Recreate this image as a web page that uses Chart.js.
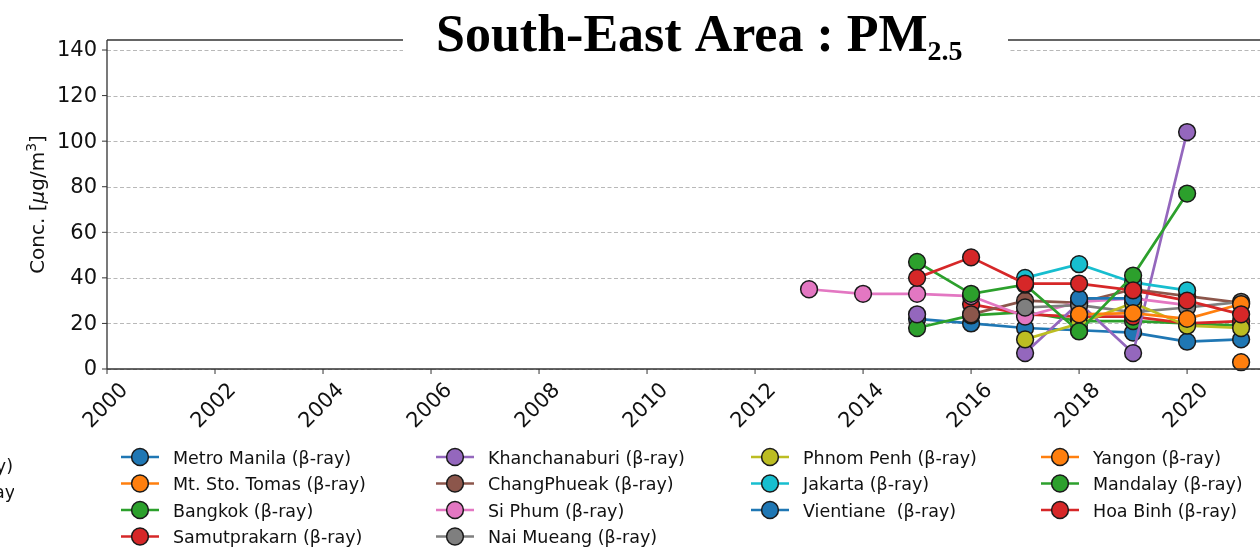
<!DOCTYPE html>
<html>
<head>
<meta charset="utf-8">
<script src="https://cdn.jsdelivr.net/npm/chart.js@4/dist/chart.umd.min.js"></script>
<style>
  html, body { margin: 0; padding: 0; background: #fff; overflow: hidden; }
  #wrap { position: relative; width: 1260px; height: 549px; }
</style>
</head>
<body>
<div id="wrap"><canvas id="chart" width="1260" height="549"></canvas></div>
<script>
// years on the x axis, one value per year (null = no measurement)
const years = [2013, 2014, 2015, 2016, 2017, 2018, 2019, 2020, 2021];

const metroManila   = [null, null, 22, 20, 18, 17, 16, 12, 13];
const mtStoTomas    = [null, null, null, null, null, null, null, null, 3];
const bangkok       = [null, null, 18, 23.5, 25, 21, 21, 20, 19];
const samutprakarn  = [null, null, null, 28.5, 24, 23, 23, 20, 21];
const khanchanaburi = [null, null, 24, null, 7, 29, 7, 104, null];
const changPhueak   = [null, null, null, 24, 30, 29, 35, 32, 29];
const siPhum        = [35, 33, 33, 32, 23, 29.5, 31, 28, null];
const naiMueang     = [null, null, null, null, 27, 28, 25, 27, 29.5];
const phnomPenh     = [null, null, null, null, 13, 20, 29, 19, 18];
const jakarta       = [null, null, null, null, 40, 46, 38, 34.5, null];
const vientiane     = [null, null, null, null, null, 31, 31, null, null];
const yangon        = [null, null, null, null, null, 24, 24.5, 22, 28.5];
const mandalay      = [null, null, 47, 33, 37, 16.5, 41, 77, null];
const hoaBinh       = [null, null, 40, 49, 37.5, 37.5, 34.5, 30, 24];

const stationNames = [
  'Metro Manila (β-ray)', 'Mt. Sto. Tomas (β-ray)', 'Bangkok (β-ray)', 'Samutprakarn (β-ray)',
  'Khanchanaburi (β-ray)', 'ChangPhueak (β-ray)', 'Si Phum (β-ray)', 'Nai Mueang (β-ray)',
  'Phnom Penh (β-ray)', 'Jakarta (β-ray)', 'Vientiane  (β-ray)', 'Yangon (β-ray)',
  'Mandalay (β-ray)', 'Hoa Binh (β-ray)'
];
const stationValues = [
  metroManila, mtStoTomas, bangkok, samutprakarn, khanchanaburi, changPhueak, siPhum,
  naiMueang, phnomPenh, jakarta, vientiane, yangon, mandalay, hoaBinh
];

const xTicks = [2000, 2002, 2004, 2006, 2008, 2010, 2012, 2014, 2016, 2018, 2020];
const yTicks = [0, 20, 40, 60, 80, 100, 120, 140];

const palette = ['#1f77b4', '#ff7f0e', '#2ca02c', '#d62728', '#9467bd',
                 '#8c564b', '#e377c2', '#7f7f7f', '#bcbd22', '#17becf'];

const FONT = '"DejaVu Sans", sans-serif';
const LINE_W = 2.7;

const datasets = stationNames.map((name, i) => {
  const c = palette[i % palette.length];
  return {
    label: name,
    data: years.map((yr, k) => ({ x: yr, y: stationValues[i][k] })),
    borderColor: c,
    backgroundColor: c,
    borderWidth: LINE_W,
    pointRadius: 8.4,
    pointBorderWidth: 1.5,
    pointBackgroundColor: c,
    pointBorderColor: '#1a1a1a',
    spanGaps: false,
    clip: false,
    order: stationNames.length - i   // later stations drawn on top
  };
});

const framePlugin = {
  id: 'frame',
  beforeDatasetsDraw(chart) {
    const { ctx, chartArea: a, scales: { y } } = chart;
    ctx.save();
    ctx.strokeStyle = '#b8b8b8';
    ctx.lineWidth = 1;
    ctx.setLineDash([4, 2.5]);
    yTicks.forEach(v => {
      const py = Math.round(y.getPixelForValue(v)) + 0.5;
      ctx.beginPath();
      ctx.moveTo(a.left, py);
      ctx.lineTo(a.right, py);
      ctx.stroke();
    });
    ctx.restore();
  },
  afterDatasetsDraw(chart) {
    const { ctx, chartArea: a, scales: { x, y } } = chart;
    ctx.save();

    // spines
    ctx.strokeStyle = '#333';
    ctx.lineWidth = 1.3;
    ctx.beginPath();
    ctx.moveTo(a.left, a.top); ctx.lineTo(a.right, a.top);
    ctx.moveTo(a.left, a.top); ctx.lineTo(a.left, a.bottom);
    ctx.moveTo(a.left, a.bottom); ctx.lineTo(a.right, a.bottom);
    ctx.stroke();

    // y ticks + labels
    ctx.lineWidth = 1;
    ctx.fillStyle = '#111';
    ctx.font = '21px ' + FONT;
    ctx.textAlign = 'right';
    ctx.textBaseline = 'middle';
    yTicks.forEach(v => {
      const py = y.getPixelForValue(v);
      ctx.beginPath();
      ctx.moveTo(a.left - 5, py); ctx.lineTo(a.left, py);
      ctx.stroke();
      ctx.fillText(String(v), a.left - 10, py + 1);
    });

    // x ticks + rotated labels
    ctx.textAlign = 'center';
    xTicks.forEach(v => {
      const px = x.getPixelForValue(v);
      ctx.beginPath();
      ctx.moveTo(px, a.bottom); ctx.lineTo(px, a.bottom + 5);
      ctx.stroke();
      ctx.save();
      ctx.translate(px - 1, a.bottom + 37);
      ctx.rotate(-Math.PI / 4);
      ctx.fillText(String(v), 0, 0);
      ctx.restore();
    });

    // y axis title: Conc. [μg/m³]
    ctx.save();
    ctx.translate(37, (a.top + a.bottom) / 2);
    ctx.rotate(-Math.PI / 2);
    drawRuns(ctx, [
      { t: 'Conc. [', f: '20px ' + FONT },
      { t: 'μ', f: 'italic 20px ' + FONT },
      { t: 'g/m', f: '20px ' + FONT },
      { t: '3', f: '14px ' + FONT, dy: -8 },
      { t: ']', f: '20px ' + FONT }
    ], 0, 7, 'center');
    ctx.restore();

    // title with white box over the top spine
    ctx.fillStyle = '#fff';
    ctx.fillRect(403, 0, 605, 62);
    ctx.fillStyle = '#000';
    drawRuns(ctx, [
      { t: 'South-East Area : PM', f: 'bold 52px "Liberation Serif", serif' },
      { t: '2.5', f: 'bold 28px "Liberation Serif", serif', dy: 9 }
    ], 436, 51, 'left');

    // legend: 4 columns, matplotlib style column fill (4, 4, 3, 3)
    const colX = [121, 436, 751, 1041];
    const rowY = [457, 483.5, 510, 536.5];
    const colSizes = [4, 4, 3, 3];
    ctx.font = '17.5px ' + FONT;
    ctx.textAlign = 'left';
    ctx.textBaseline = 'alphabetic';
    let idx = 0;
    colSizes.forEach((n, col) => {
      for (let row = 0; row < n; row++, idx++) {
        const lx = colX[col], ly = rowY[row];
        const c = palette[idx % palette.length];
        ctx.strokeStyle = c;
        ctx.lineWidth = LINE_W;
        ctx.beginPath();
        ctx.moveTo(lx, ly); ctx.lineTo(lx + 38, ly);
        ctx.stroke();
        ctx.beginPath();
        ctx.arc(lx + 19, ly, 8.4, 0, Math.PI * 2);
        ctx.fillStyle = c;
        ctx.fill();
        ctx.lineWidth = 1.5;
        ctx.strokeStyle = '#1a1a1a';
        ctx.stroke();
        ctx.fillStyle = '#111';
        ctx.fillText(stationNames[idx], lx + 52, ly + 6.5);
      }
    });

    // cut-off legend entries of the neighbouring panel at the left edge
    ctx.save();
    ctx.beginPath();
    ctx.rect(0, 440, 14, 80);
    ctx.clip();
    ctx.textAlign = 'right';
    ctx.fillText('(β-ray)', 13, 472);
    ctx.fillText('(β-ray)', 22, 498);
    ctx.restore();

    ctx.restore();
  }
};

function drawRuns(ctx, runs, x, y, align) {
  let total = 0;
  runs.forEach(r => { ctx.font = r.f; total += ctx.measureText(r.t).width; });
  let cx = align === 'center' ? x - total / 2 : x;
  ctx.textAlign = 'left';
  ctx.textBaseline = 'alphabetic';
  runs.forEach(r => {
    ctx.font = r.f;
    ctx.fillText(r.t, cx, y + (r.dy || 0));
    cx += ctx.measureText(r.t).width;
  });
}

new Chart(document.getElementById('chart'), {
  type: 'line',
  data: { datasets },
  options: {
    responsive: false,
    animation: false,
    layout: { autoPadding: false, padding: { left: 107, top: 40, right: 0, bottom: 180 } },
    plugins: { legend: { display: false }, tooltip: { enabled: false } },
    scales: {
      x: { type: 'linear', min: 2000, max: 2021.35, display: false },
      y: { type: 'linear', min: 0, max: 144.4, display: false }
    }
  },
  plugins: [framePlugin]
});
</script>
</body>
</html>
